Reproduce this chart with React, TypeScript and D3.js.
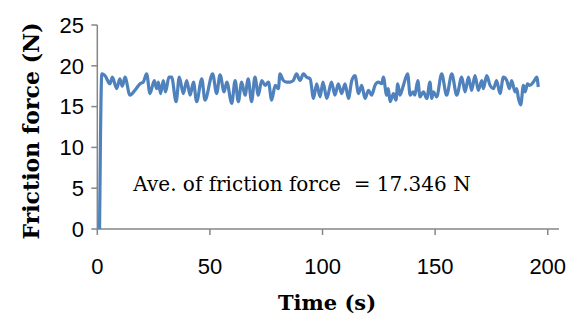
import React from "react";
import * as d3 from "d3";

const timeS = [
  1, 2, 3.4, 5.6, 6.7, 8.6, 10, 11.1, 12.3, 14.5, 16.7, 19, 20.4, 21.9, 23.4, 25.3, 26.3, 27.1, 28.1, 29.3, 30.3, 31.8,
  33, 35, 36.4, 38.2, 39.7, 41.2, 42.7, 44.1, 46.4, 47.8, 51.2, 53, 54.5, 56.3, 57.5, 59.7, 61.2, 62.6, 64.1, 65.6,
  67, 68.5, 70, 71.5, 73, 74.5, 76, 77.4, 79, 80.4, 81.1, 82.6, 84, 85.6, 87, 88.5, 90, 91.5, 93, 94.5, 96, 97.4, 98.9,
  100.2, 101.9, 104, 105.5, 107, 108.5, 110, 111.5, 113, 114.4, 116, 117.4, 118.9, 120.4, 121.8, 123.3, 124.8, 126.3, 127, 128.5, 129.2, 130, 131.5,
  132.6, 133.4, 134.4, 135.9, 137.8, 138.9, 140.3, 141, 142.3, 143.3, 144.8, 146.3, 147.7, 148.5, 149.2, 150.7, 152.9, 155.1, 157.4, 159.6, 161.8, 163.3, 164.8,
  166.2, 167.7, 169.2, 170.7, 171.4, 172.9, 174.4, 175.9, 177.3, 178.8, 180.3, 181.8, 183, 184, 185.5, 186.2, 187, 188, 189.2, 190, 191, 192, 193.6, 195.1, 195.8,
];
const forceN = [
  0, 19.0, 18.8, 17.8, 18.6, 17.2, 18.4, 17.5, 18.6, 16.4, 17.0, 17.8, 18.0, 19.0, 16.6, 18.2, 17.2, 18.0, 16.6, 18.2, 16.8, 18.6,
  18.6, 15.6, 18.6, 16.6, 18.2, 16.4, 18.0, 15.6, 18.4, 15.8, 19.0, 16.6, 18.9, 16.8, 18.0, 15.4, 18.2, 15.6, 18.0, 16.4,
  18.4, 15.6, 18.6, 16.4, 18.2, 17.6, 18.0, 15.8, 17.6, 17.2, 19.0, 18.2, 18.0, 18.0, 18.2, 19.0, 18.2, 19.0, 18.6, 18.4, 16.0, 17.8, 16.2,
  18.0, 16.0, 18.0, 16.4, 17.8, 16.6, 17.8, 16.0, 18.2, 18.8, 16.6, 17.6, 16.0, 17.0, 16.4, 17.6, 18.0, 17.8, 18.6, 16.4, 17.2, 15.6, 16.6,
  15.8, 17.8, 16.4, 17.6, 19.0, 16.4, 16.8, 16.4, 18.2, 16.2, 16.8, 16.0, 18.0, 16.0, 16.8, 16.2, 19.0, 16.4, 19.0, 16.4, 18.6, 16.8, 18.6,
  17.0, 18.8, 17.0, 18.2, 17.2, 18.8, 17.6, 17.2, 18.2, 16.6, 18.6, 18.2, 17.2, 18.2, 16.8, 17.2, 16.0, 15.2, 17.6, 16.8, 17.8, 17.6, 18.0, 18.6, 17.4,
];
const xTicks = [0, 50, 100, 150, 200];
const yTicks = [0, 5, 10, 15, 20, 25];
const xTitle = "Time (s)";
const yTitle = "Friction force (N)";
const note = "Ave. of friction force  = 17.346 N";

export default function App() {
  const W = 571, H = 314;
  const x = d3.scaleLinear().domain([0, 205]).range([97.3, 559]);
  const y = d3.scaleLinear().domain([0, 25]).range([229, 25]);
  const pts: [number, number][] = timeS.map((t, i) => [t, forceN[i]]);
  const line = d3
    .line<[number, number]>()
    .x((d) => x(d[0]))
    .y((d) => y(d[1]))
    .curve(d3.curveMonotoneX);
  const axisColor = "#868686";
  const tickFont = "'Liberation Sans', Arial, sans-serif";
  const serif = "'DejaVu Serif', 'Liberation Serif', serif";
  return (
    <svg width={W} height={H} style={{ position: "absolute", left: 0, top: 0, background: "#fff" }}>
      <line x1={x(0)} x2={x(0)} y1={y(25)} y2={y(0)} stroke={axisColor} strokeWidth={1.5} />
      <line x1={x(0)} x2={x(205)} y1={y(0)} y2={y(0)} stroke={axisColor} strokeWidth={1.5} />
      {yTicks.map((v) => (
        <g key={"y" + v}>
          <line x1={x(0) - 6} x2={x(0)} y1={y(v)} y2={y(v)} stroke={axisColor} strokeWidth={1.5} />
          <text x={84} y={y(v)} dy="0.35em" textAnchor="end" fontFamily={tickFont} fontSize={22} fill="#000">
            {v}
          </text>
        </g>
      ))}
      {xTicks.map((v) => (
        <g key={"x" + v}>
          <line x1={x(v)} x2={x(v)} y1={y(0)} y2={y(0) + 6} stroke={axisColor} strokeWidth={1.5} />
          <text x={x(v)} y={274} textAnchor="middle" fontFamily={tickFont} fontSize={22} fill="#000">
            {v}
          </text>
        </g>
      ))}
      <path d={line(pts) || ""} fill="none" stroke="#4F81BD" strokeWidth={3.2} strokeLinejoin="round" />
      <text x={302} y={191} textAnchor="middle" fontFamily={serif} fontSize={20} fill="#000" style={{ whiteSpace: "pre" }}>
        {note}
      </text>
      <text x={327} y={310} textAnchor="middle" fontFamily={serif} fontWeight="bold" fontSize={21} fill="#000">
        {xTitle}
      </text>
      <text
        transform={`translate(39,131) rotate(-90)`}
        textAnchor="middle"
        fontFamily={serif}
        fontWeight="bold"
        fontSize={22}
        fill="#000"
      >
        {yTitle}
      </text>
    </svg>
  );
}
